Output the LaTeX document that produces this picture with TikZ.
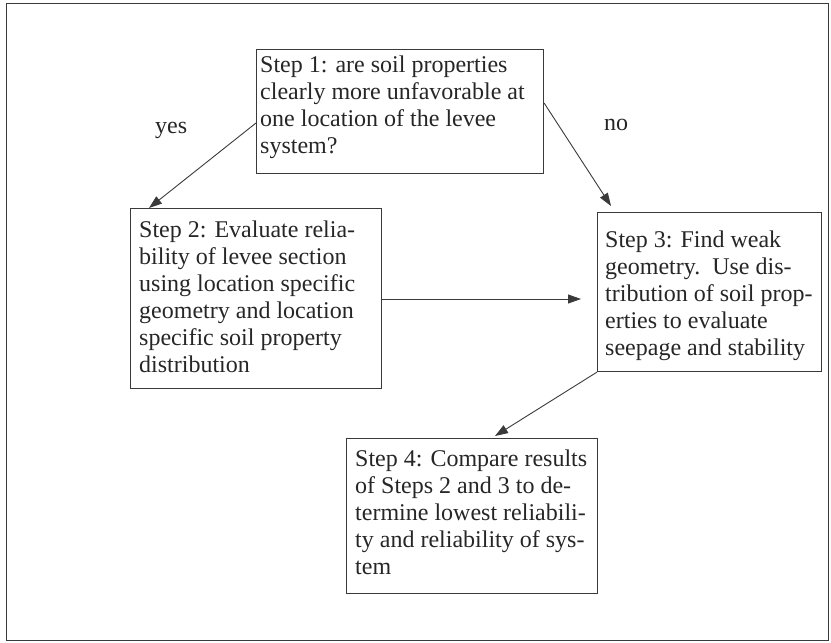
\documentclass[tikz,border=0pt]{standalone}
\usepackage{fontspec}
\setmainfont{Liberation Serif}
\usetikzlibrary{arrows.meta,calc}
\definecolor{inkc}{HTML}{262626}
\definecolor{linec}{HTML}{3A3A3A}
\tikzset{
  stepbox/.style={draw=linec, line width=1.1pt, inner sep=0pt, anchor=north west},
  steptext/.style={inner sep=0pt, anchor=north west, align=left, text=inkc,
    font=\fontsize{24}{27}\selectfont},
  lab/.style={inner sep=0pt, anchor=base west, text=inkc, font=\fontsize{24}{27}\selectfont},
  flow/.style={draw=linec, line width=0.9pt, -{Triangle[length=13pt,width=9pt]}},
}
\begin{document}
\begin{tikzpicture}[x=1pt,y=-1pt]
\useasboundingbox (0,0) rectangle (831,643);
\node[draw=linec, line width=1.4pt, inner sep=0pt, anchor=north west,
  minimum width=822pt, minimum height=637pt] (frame) at (6,3) {};

\node[stepbox, minimum width=287pt, minimum height=124pt] (s1) at (256,49) {};
\node[stepbox, minimum width=251pt, minimum height=180pt] (s2) at (130,208) {};
\node[stepbox, minimum width=224pt, minimum height=159pt] (s3) at (597,212) {};
\node[stepbox, minimum width=251pt, minimum height=155pt] (s4) at (346,438) {};

\node[steptext] (t1) at ($(s1.north west)+(4,4.1)$) {\strut Step 1: are soil properties\\clearly more unfavorable at\\one location of the levee\\system?};
\node[steptext] (t2) at ($(s2.north west)+(9,10.1)$) {\strut Step 2: Evaluate relia-\\bility of levee section\\using location specific\\geometry and location\\specific soil property\\distribution};
\node[steptext] (t3) at ($(s3.north west)+(8,16.1)$) {\strut Step 3: Find weak\\geometry.\ \ Use dis-\\tribution of soil prop-\\erties to evaluate\\seepage and stability};
\node[steptext] (t4) at ($(s4.north west)+(9,9.1)$) {\strut Step 4: Compare results\\of Steps 2 and 3 to de-\\termine lowest reliabili-\\ty and reliability of sys-\\tem};

\node[lab] (yes) at (155,133) {yes};
\node[lab] (no) at (604,130) {no};

\draw[flow] ($(s1.north west)+(0,74)$) -- ($(s2.north west)+(19,0)$);
\draw[flow] ($(s1.north east)+(0,54)$) -- ($(s3.north west)+(14,-6)$);
\draw[flow] ($(s2.north east)+(0,91)$) -- ($(s3.north west)+(-16,87)$);
\draw[flow] (s3.south west) -- ($(s4.north west)+(149,-2)$);
\end{tikzpicture}
\end{document}
